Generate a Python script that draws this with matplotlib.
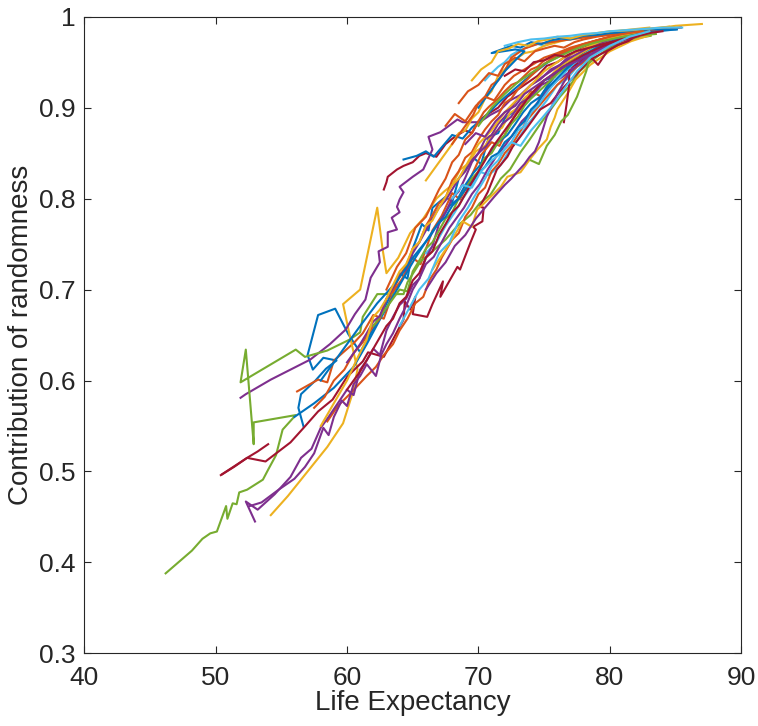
import matplotlib
matplotlib.use("Agg")
import matplotlib.pyplot as plt

plt.rcParams['font.family'] = ['Liberation Sans', 'DejaVu Sans']

# MATLAB default line colour order
palette = ['#0072BD', '#D95319', '#EDB120', '#7E2F8E', '#77AC30', '#4DBEEE', '#A2142F']

# life expectancy (x) and contribution of randomness (y), one pair per country
c01_x = [56.7, 56.3, 56.5, 57.6, 58.4, 59.2, 58.2, 57.4, 57.0, 57.8, 59.1, 60.1, 61.0, 62.0, 63.2, 64.0, 64.6,
         65.0, 65.7, 66.2, 66.5, 67.5, 68.0, 68.5, 69.6, 70.2, 70.8, 71.5, 72.0, 72.8, 73.5, 74.2, 75.0, 75.8,
         76.5, 77.3, 78.0, 79.5, 81.0, 82.5]
c01_y = [.549, .570, .585, .600, .613, .622, .625, .612, .628, .672, .679, .651, .631, .657, .690, .718, .712,
         .745, .772, .765, .790, .802, .796, .822, .845, .838, .868, .872, .888, .897, .910, .915, .930, .934,
         .948, .952, .960, .970, .978, .983]

c02_x = [56.2, 57.8, 58.5, 59.0, 60.5, 61.2, 62.0, 62.8, 63.5, 64.2, 65.0, 65.6, 66.5, 67.2, 68.0, 68.6, 69.5,
         70.2, 71.0, 71.6, 72.5, 73.2, 74.0, 74.8, 75.5, 76.2, 77.0, 77.8, 78.5, 80.0, 81.0, 82.0]
c02_y = [.588, .601, .598, .622, .641, .652, .672, .668, .697, .712, .735, .728, .765, .781, .806, .799, .826,
         .848, .862, .858, .885, .902, .918, .912, .931, .945, .955, .952, .962, .976, .979, .982]

c03_x = [54.2, 55.5, 57.0, 58.5, 59.7, 60.4, 60.8, 60.2, 59.7, 61.0, 62.3, 62.7, 63.0, 63.9, 64.8, 65.8, 66.8,
         67.4, 68.0, 68.6, 69.2, 69.8, 70.5, 71.1, 71.8, 72.4, 73.0, 73.6, 74.2, 74.8, 75.5, 76.2, 77.0, 77.8,
         78.5, 79.3, 80.0, 81.5, 83.0, 85.0, 87.0]
c03_y = [.452, .473, .500, .527, .553, .585, .612, .650, .684, .700, .790, .745, .718, .735, .762, .778, .800,
         .808, .815, .832, .838, .852, .858, .872, .878, .894, .900, .912, .918, .928, .935, .946, .952, .960,
         .965, .971, .975, .982, .986, .990, .992]

c04_x = [51.9, 52.3, 54.2, 55.7, 57.2, 58.7, 59.9, 60.6, 61.4, 61.8, 62.5, 62.4, 63.1, 63.1, 63.8, 63.4, 64.0,
         63.8, 64.0, 64.3, 64.0, 65.0, 65.8, 66.5, 66.2, 67.1, 68.4, 68.8, 70.1, 70.9, 71.7, 72.4, 73.2, 74.0,
         74.7, 75.5, 76.2, 77.0, 77.7, 78.5, 79.3, 80.8]
c04_y = [.581, .585, .601, .612, .623, .640, .656, .673, .689, .713, .730, .742, .747, .763, .766, .779, .785,
         .791, .799, .807, .813, .824, .832, .854, .868, .873, .887, .884, .884, .892, .898, .908, .914, .925,
         .931, .942, .947, .958, .964, .968, .975, .980]

c05_x = [46.2, 48.2, 49.0, 49.6, 50.1, 50.8, 50.9, 51.3, 51.6, 51.8, 52.4, 53.6, 54.0, 54.6, 55.1, 56.1, 52.9,
         52.9, 52.3, 51.9, 56.1, 56.8, 58.5, 60.2, 61.0, 61.2, 62.3, 64.3, 64.6, 65.6, 66.5, 67.5, 68.4, 69.4,
         70.1, 70.9, 71.7, 72.4, 73.2, 73.9, 74.7, 75.5, 76.2, 77.0, 77.7, 78.5, 79.2, 80.0, 81.6, 83.1]
c05_y = [.388, .413, .426, .432, .434, .462, .448, .465, .464, .477, .480, .491, .502, .518, .546, .562, .554,
         .530, .634, .598, .634, .626, .633, .645, .653, .670, .695, .695, .708, .731, .742, .755, .770, .782,
         .795, .804, .822, .832, .851, .865, .882, .898, .912, .925, .940, .950, .958, .966, .975, .979]

c06_x = [66.0, 66.8, 67.5, 68.2, 68.8, 69.4, 70.0, 70.8, 71.7, 72.3, 73.0, 73.7, 74.5, 75.2, 76.0, 76.7, 77.5,
         78.2, 79.0, 80.5, 82.0, 84.0]
c06_y = [.740, .752, .770, .785, .800, .812, .830, .826, .837, .852, .865, .881, .895, .908, .925, .931, .945,
         .952, .962, .973, .981, .986]

c07_x = [50.5, 52.4, 53.8, 55.7, 56.7, 57.8, 58.9, 60.0, 61.2, 61.6, 62.8, 64.3, 64.4, 64.8, 65.2, 65.0, 66.1,
         66.5, 67.3, 67.1, 68.4, 68.6, 69.4, 69.8, 69.6, 70.3, 70.4, 70.1, 70.7, 71.4, 72.2, 72.6, 73.6, 74.7,
         75.5, 76.2, 77.4, 78.5, 80.0, 81.6]
c07_y = [.497, .515, .511, .532, .548, .566, .579, .604, .621, .631, .626, .667, .687, .678, .692, .673, .670,
         .684, .709, .692, .725, .722, .752, .766, .769, .775, .790, .791, .807, .832, .846, .857, .876, .898,
         .905, .918, .936, .953, .964, .975]

c08_x = [56.0, 57.5, 59.0, 60.5, 61.5, 62.5, 63.8, 65.2, 66.6, 67.2, 67.8, 68.4, 69.0, 69.6, 70.2, 70.9, 71.5,
         72.2, 72.8, 73.4, 74.0, 74.7, 75.3, 76.0, 76.8, 77.5, 78.2, 79.7, 81.2, 83.0, 85.0]
c08_y = [.560, .575, .592, .615, .640, .667, .700, .735, .766, .778, .792, .799, .815, .828, .838, .851, .862,
         .870, .882, .895, .905, .912, .925, .938, .945, .950, .958, .969, .977, .983, .986]

c09_x = [58.5, 59.3, 60.2, 61.5, 62.2, 62.8, 63.5, 64.0, 64.6, 65.2, 65.8, 66.3, 66.8, 67.2, 68.0, 68.5, 69.0,
         69.5, 70.0, 70.5, 71.0, 71.5, 72.0, 72.5, 73.0, 73.8, 74.5, 75.2, 76.0, 76.8, 77.5, 78.2, 79.0, 80.5,
         82.5, 84.0]
c09_y = [.555, .572, .585, .605, .615, .628, .640, .655, .668, .685, .692, .711, .722, .735, .755, .762, .780,
         .790, .805, .812, .830, .838, .850, .858, .870, .888, .900, .912, .925, .936, .945, .952, .960, .972,
         .982, .986]

c10_x = [53.0, 52.3, 53.2, 54.5, 55.7, 56.5, 57.3, 58.0, 58.6, 59.3, 60.0, 60.5, 61.0, 61.5, 62.0, 62.5, 63.0,
         63.5, 64.0, 64.5, 65.0, 65.5, 66.0, 66.6, 67.2, 67.8, 68.3, 68.9, 69.5, 70.1, 70.7, 71.3, 72.0, 72.6,
         73.3, 74.0, 74.6, 75.3, 76.0, 76.8, 77.5, 79.0, 80.5]
c10_y = [.445, .467, .458, .475, .494, .515, .525, .548, .560, .575, .590, .584, .612, .622, .635, .628, .655,
         .670, .683, .690, .705, .712, .728, .736, .752, .768, .778, .790, .805, .816, .832, .845, .858, .870,
         .885, .895, .908, .920, .930, .938, .950, .963, .973]

c11_x = [52.6, 53.5, 54.8, 56.0, 56.8, 57.5, 58.2, 58.6, 59.0, 59.6, 60.0, 60.5, 61.0, 61.5, 62.2, 62.6, 63.0,
         63.5, 64.0, 64.5, 65.0, 65.5, 66.0, 66.5, 67.0, 67.5, 68.0, 68.5, 69.0, 69.5, 70.0, 70.6, 71.2, 71.8,
         72.5, 73.2, 74.0, 74.8, 75.5, 76.2, 77.0, 78.5, 80.0, 81.5]
c11_y = [.462, .466, .480, .492, .505, .520, .548, .540, .560, .578, .572, .596, .605, .618, .605, .628, .640,
         .652, .668, .682, .700, .712, .735, .748, .772, .785, .800, .808, .823, .840, .850, .858, .870, .882,
         .890, .905, .912, .925, .930, .942, .950, .963, .973, .980]

c12_x = [66.5, 67.5, 68.2, 68.8, 69.5, 69.9, 70.3, 71.7, 72.2, 73.2, 73.9, 74.5, 75.2, 75.5, 75.8, 76.0, 76.8,
         77.4, 78.5, 80.0, 81.6, 83.1]
c12_y = [.722, .744, .760, .775, .769, .788, .793, .813, .824, .829, .843, .854, .865, .879, .889, .898, .916,
         .931, .947, .962, .973, .980]

c13_x = [76.5, 76.7, 76.9, 76.9, 77.7, 78.4, 79.1, 79.8, 80.6, 81.4, 82.1, 83.8, 85.4]
c13_y = [.884, .903, .925, .944, .949, .958, .947, .962, .969, .973, .980, .986, .988]

c14_x = [62.8, 63.0, 63.1, 63.8, 64.3, 65.0, 65.5, 66.0, 66.8, 67.5, 68.2, 69.0, 69.5, 70.0, 70.6, 71.5, 72.2,
         73.0, 73.8, 74.5, 75.2, 76.0, 76.8, 77.5, 79.0, 81.0]
c14_y = [.810, .818, .824, .832, .836, .840, .847, .850, .846, .860, .868, .875, .872, .885, .892, .900, .912,
         .920, .928, .935, .946, .950, .958, .962, .972, .980]

c15_x = [50.4, 51.4, 52.4, 53.2, 54.0]
c15_y = [.496, .505, .515, .522, .530]

c16_x = [64.3, 65.3, 66.0, 66.6, 67.3, 68.0, 68.8, 69.5, 70.5, 71.5, 72.7, 74.0, 75.3, 76.8, 78.3, 80.0, 82.0, 84.0]
c16_y = [.843, .847, .852, .846, .858, .870, .866, .878, .890, .905, .920, .936, .950, .962, .970, .977, .983, .987]

c17_x = [63.0, 63.8, 64.5, 65.2, 66.0, 66.5, 67.0, 67.5, 68.0, 68.5, 69.0, 69.5, 70.0, 70.4, 70.8, 71.5, 72.0,
         72.5, 73.0, 73.5, 74.0, 74.5, 75.0, 75.5, 76.5, 78.0, 79.5, 81.0, 82.5, 84.0]
c17_y = [.700, .725, .740, .768, .780, .795, .810, .822, .840, .848, .865, .872, .885, .895, .901, .910, .918,
         .925, .928, .935, .942, .945, .952, .955, .962, .970, .976, .981, .984, .987]

c18_x = [57.5, 58.3, 59.0, 59.8, 60.5, 61.2, 62.0, 62.5, 63.0, 63.5, 64.0, 64.5, 65.0, 65.5, 66.0, 66.5, 67.0,
         67.5, 68.0, 68.5, 69.0, 69.5, 70.0, 70.5, 71.0, 71.5, 72.0, 72.5, 73.0, 73.5, 74.0, 75.0, 76.0, 77.5,
         79.0, 80.5, 82.0]
c18_y = [.570, .582, .600, .612, .630, .642, .660, .668, .690, .698, .715, .726, .745, .752, .770, .782, .795,
         .801, .820, .830, .845, .851, .865, .876, .885, .892, .905, .910, .920, .928, .935, .948, .958, .967,
         .974, .979, .983]

c19_x = [62.0, 63.0, 63.6, 64.0, 64.6, 65.0, 65.5, 66.0, 66.5, 67.0, 67.5, 68.0, 68.5, 69.0, 69.5, 70.0, 70.5,
         71.0, 71.5, 72.0, 72.5, 73.0, 73.5, 74.0, 75.5, 77.0, 78.5, 80.0, 81.5, 83.0]
c19_y = [.660, .680, .692, .700, .698, .720, .732, .745, .752, .765, .778, .785, .800, .810, .822, .830, .845,
         .850, .862, .870, .882, .890, .902, .910, .930, .950, .963, .973, .979, .984]

c20_x = [74.0, 74.6, 75.2, 75.8, 76.3, 76.8, 77.5, 78.2, 78.7, 79.5, 80.5, 82.0, 83.5]
c20_y = [.842, .838, .858, .870, .885, .892, .912, .940, .967, .972, .975, .979, .981]

c21_x = [64.0, 65.5, 66.2, 67.0, 67.8, 68.5, 69.2, 70.0, 70.5, 71.0, 71.5, 72.0, 72.5, 73.0, 73.5, 74.0, 74.5,
         75.0, 75.5, 76.0, 77.0, 78.0, 79.0, 80.5, 82.0, 84.0]
c21_y = [.660, .700, .712, .740, .752, .775, .790, .810, .822, .835, .842, .855, .862, .875, .880, .895, .902,
         .912, .922, .930, .945, .958, .967, .975, .982, .986]

c22_x = [70.5, 71.0, 71.5, 72.0, 72.5, 73.0, 73.5, 74.0, 74.5, 75.0, 75.5, 76.5, 77.5, 79.0, 80.5, 82.0, 84.5]
c22_y = [.930, .938, .945, .950, .958, .962, .965, .968, .970, .968, .972, .975, .978, .981, .983, .985, .987]

c23_x = [66.0, 66.6, 67.0, 67.6, 68.0, 68.5, 69.0, 69.5, 70.0, 70.5, 71.0, 71.5, 72.0, 72.5, 73.0, 73.5, 74.2,
         75.0, 76.5, 78.0, 79.5, 81.0, 83.0]
c23_y = [.820, .832, .840, .852, .860, .872, .875, .888, .895, .910, .918, .935, .942, .950, .955, .960, .962,
         .968, .974, .978, .982, .985, .988]

c24_x = [60.0, 60.6, 61.0, 61.5, 62.0, 62.5, 63.0, 63.5, 64.0, 64.5, 65.0, 65.5, 66.0, 66.5, 67.0, 67.5, 68.0,
         68.5, 69.0, 69.5, 70.0, 70.5, 71.0, 71.5, 72.0, 73.0, 74.0, 75.5, 77.0, 78.5, 80.0, 81.5]
c24_y = [.620, .632, .640, .652, .665, .671, .690, .702, .715, .722, .740, .752, .765, .778, .790, .798, .810,
         .822, .830, .842, .850, .865, .870, .882, .890, .910, .925, .940, .955, .967, .975, .981]

c25_x = [66.0, 66.8, 67.5, 68.2, 69.0, 69.8, 70.5, 71.2, 72.0, 72.5, 73.0, 73.5, 73.9, 74.3, 74.6, 75.2, 75.6,
         76.0, 76.5, 77.0, 78.5, 80.0, 82.0]
c25_y = [.700, .718, .730, .748, .760, .778, .790, .802, .815, .822, .830, .838, .846, .852, .862, .890, .902,
         .915, .928, .940, .958, .970, .980]

c26_x = [58.0, 59.5, 61.0, 62.3, 63.8, 65.0, 66.3, 66.9, 67.5, 68.0, 68.5, 69.0, 69.5, 70.0, 70.5, 71.0, 71.5,
         72.0, 72.5, 73.0, 73.5, 74.0, 74.5, 75.0, 75.5, 76.5, 77.5, 79.0, 80.5, 82.0, 84.0]
c26_y = [.600, .630, .660, .685, .709, .735, .758, .772, .780, .792, .800, .810, .818, .828, .835, .846, .850,
         .862, .868, .878, .885, .898, .905, .918, .925, .940, .953, .966, .975, .982, .986]

c27_x = [58.0, 59.0, 60.0, 60.8, 61.5, 62.0, 62.5, 63.0, 63.5, 64.0, 64.5, 65.0, 65.5, 66.0, 66.5, 67.0, 67.5,
         68.0, 68.5, 69.0, 69.5, 70.0, 71.0, 72.0, 73.0, 74.0, 75.0, 76.5, 78.0, 79.5, 81.0, 82.5]
c27_y = [.550, .575, .600, .625, .645, .670, .678, .690, .705, .720, .728, .745, .752, .770, .776, .790, .802,
         .815, .822, .835, .848, .860, .875, .895, .910, .925, .940, .955, .965, .974, .980, .984]

c28_x = [68.0, 68.6, 69.0, 69.6, 70.0, 70.5, 71.0, 71.5, 72.0, 72.5, 73.5, 74.5, 75.5, 77.0, 78.5, 80.0, 81.5,
         83.0, 84.5]
c28_y = [.860, .872, .880, .892, .905, .912, .925, .930, .940, .955, .965, .970, .972, .975, .978, .981, .983,
         .985, .987]

c29_x = [60.0, 61.0, 62.0, 63.0, 63.5, 64.0, 64.5, 65.0, 65.5, 66.0, 66.5, 67.0, 67.5, 68.0, 68.5, 69.0, 69.5,
         70.0, 70.5, 71.0, 72.0, 73.0, 74.0, 75.0, 76.5, 78.0, 79.5, 81.0, 82.5]
c29_y = [.590, .610, .635, .660, .668, .685, .692, .710, .718, .735, .742, .760, .772, .785, .792, .805, .818,
         .830, .842, .855, .875, .895, .915, .930, .945, .958, .968, .976, .982]

c30_x = [68.5, 69.2, 70.0, 70.8, 71.5, 72.0, 72.8, 73.5, 74.3, 75.0, 75.8, 76.5, 77.3, 78.0, 79.0, 80.0, 81.0,
         82.0, 83.5]
c30_y = [.905, .918, .925, .938, .935, .948, .955, .951, .962, .965, .968, .966, .972, .975, .978, .980, .983,
         .985, .987]

c31_x = [70.0, 71.0, 72.0, 73.0, 73.5, 72.8, 71.0, 72.5, 73.2, 74.0, 74.8, 75.5, 76.3, 77.0, 78.0, 79.0, 80.0,
         81.0, 82.0, 83.0, 84.0, 85.1]
c31_y = [.900, .920, .940, .955, .962, .964, .960, .968, .966, .972, .970, .974, .976, .975, .979, .980, .982,
         .983, .985, .986, .986, .986]

c32_x = [69.5, 70.2, 71.0, 71.5, 72.3, 73.0, 73.8, 74.5, 75.3, 76.0, 77.0, 78.0, 79.0, 80.0, 81.5, 83.0, 84.5]
c32_y = [.930, .942, .950, .962, .965, .970, .968, .973, .975, .978, .976, .980, .982, .984, .985, .987, .989]

c33_x = [72.0, 73.0, 74.0, 75.0, 76.0, 77.0, 78.0, 79.0, 80.0, 81.0, 82.0, 83.0, 84.0, 85.5]
c33_y = [.968, .972, .975, .976, .978, .979, .981, .982, .984, .985, .986, .987, .988, .988]

c34_x = [67.5, 68.2, 69.0, 69.8, 70.5, 71.2, 72.0, 72.7, 73.5, 74.2, 75.0, 76.0, 77.0, 78.0, 79.0, 80.0, 81.0, 82.5]
c34_y = [.880, .893, .885, .902, .912, .908, .925, .935, .942, .948, .955, .960, .966, .970, .974, .978, .981, .984]

c35_x = [69.0, 69.8, 70.5, 71.3, 72.0, 72.8, 73.5, 74.2, 75.0, 75.8, 76.5, 77.3, 78.0, 79.0, 80.0, 81.0, 82.0]
c35_y = [.860, .872, .868, .885, .895, .902, .915, .922, .930, .938, .945, .950, .955, .962, .968, .974, .978]

c36_x = [70.0, 71.0, 72.0, 73.0, 74.0, 75.0, 76.0, 77.0, 78.0, 79.0, 80.0, 81.0, 82.0, 83.0]
c36_y = [.880, .900, .915, .928, .938, .948, .955, .962, .968, .972, .975, .978, .980, .982]

c37_x = [72.0, 72.8, 73.5, 74.2, 75.0, 75.8, 76.6, 77.4, 78.2, 79.0, 80.0, 81.0, 82.0, 83.0, 84.0]
c37_y = [.935, .942, .940, .950, .952, .958, .956, .962, .965, .968, .972, .975, .978, .982, .984]

c38_x = [68.0, 68.8, 69.5, 70.2, 71.0, 71.8, 72.5, 73.2, 74.0, 74.8, 75.5, 76.5, 77.5, 78.5, 80.0, 81.5, 83.0]
c38_y = [.800, .815, .812, .830, .842, .851, .862, .858, .875, .888, .900, .920, .940, .955, .968, .978, .984]

series = [
    (c01_x, c01_y, 0), (c02_x, c02_y, 1), (c03_x, c03_y, 2), (c04_x, c04_y, 3), (c05_x, c05_y, 4),
    (c06_x, c06_y, 5), (c07_x, c07_y, 6), (c08_x, c08_y, 0), (c09_x, c09_y, 1), (c10_x, c10_y, 3),
    (c11_x, c11_y, 3), (c12_x, c12_y, 2), (c13_x, c13_y, 6), (c14_x, c14_y, 6), (c15_x, c15_y, 6),
    (c16_x, c16_y, 0), (c17_x, c17_y, 1), (c18_x, c18_y, 1), (c19_x, c19_y, 4), (c20_x, c20_y, 4),
    (c21_x, c21_y, 5), (c22_x, c22_y, 5), (c23_x, c23_y, 2), (c24_x, c24_y, 3), (c25_x, c25_y, 3),
    (c26_x, c26_y, 0), (c27_x, c27_y, 2), (c28_x, c28_y, 1), (c29_x, c29_y, 6), (c30_x, c30_y, 1),
    (c31_x, c31_y, 0), (c32_x, c32_y, 2), (c33_x, c33_y, 5), (c34_x, c34_y, 1), (c35_x, c35_y, 3),
    (c36_x, c36_y, 4), (c37_x, c37_y, 6), (c38_x, c38_y, 5),
]

fig = plt.figure(figsize=(7.58, 7.26), dpi=100)
ax = fig.add_axes([0.111, 0.1, 0.867, 0.877])

for xs, ys, ci in series:
    ax.plot(xs, ys, color=palette[ci], linewidth=1.5)

ax.set_xlim(40, 90)
ax.set_ylim(0.3, 1.0)
ax.set_xticks([40, 50, 60, 70, 80, 90])
ax.set_yticks([0.3, 0.4, 0.5, 0.6, 0.7, 0.8, 0.9, 1.0])
ax.set_yticklabels(['0.3', '0.4', '0.5', '0.6', '0.7', '0.8', '0.9', '1'])
ax.tick_params(direction='in', top=True, right=True, length=5, width=0.8,
               labelsize=19, colors='#262626')
ax.tick_params(axis='x', pad=9)
ax.tick_params(axis='y', pad=6)
for sp in ax.spines.values():
    sp.set_color('#262626')
    sp.set_linewidth(0.8)

ax.set_xlabel('Life Expectancy', fontsize=20, color='#262626', labelpad=0)
ax.set_ylabel('Contribution of randomness', fontsize=20, color='#262626', labelpad=4)

fig.savefig('out.png', dpi=100)
